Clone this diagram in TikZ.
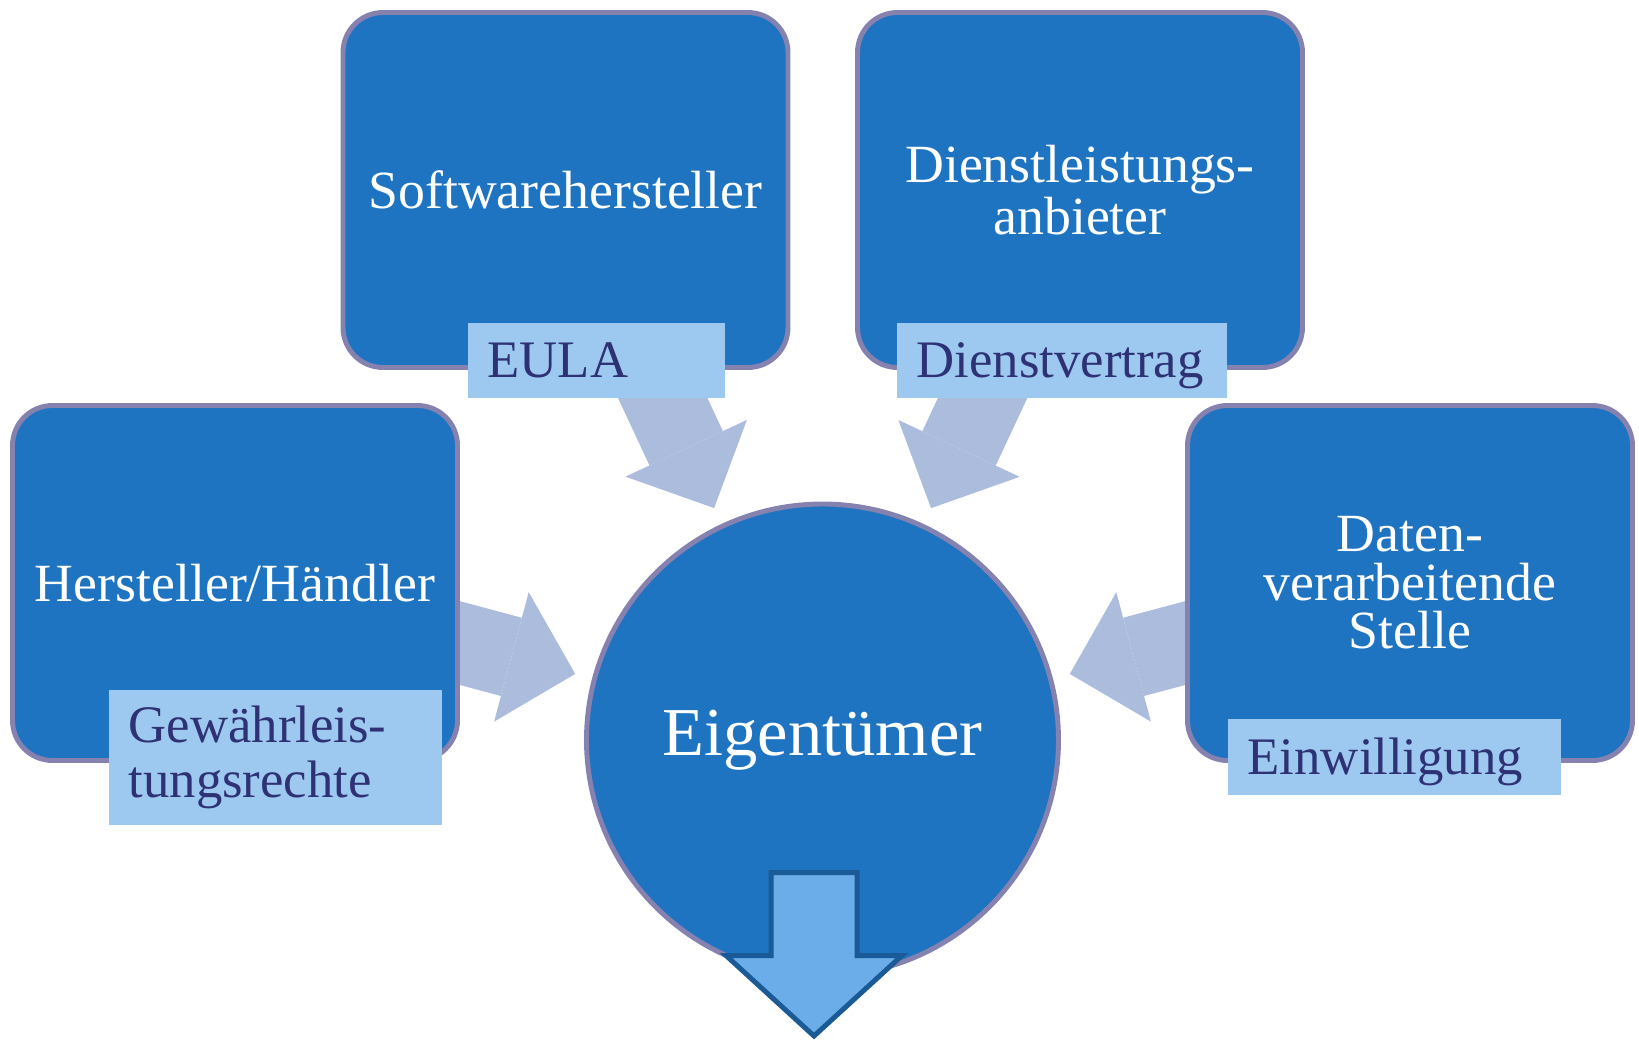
\documentclass[tikz,border=0pt]{standalone}
\usepackage{fontspec}
\setmainfont{Liberation Serif}
\usetikzlibrary{arrows.meta, backgrounds}

\definecolor{boxblue}{RGB}{31,116,193}
\definecolor{boxrim}{RGB}{134,130,176}
\definecolor{tagblue}{RGB}{157,200,239}
\definecolor{tagtext}{RGB}{46,50,116}
\definecolor{flowgray}{RGB}{171,188,221}
\definecolor{outfill}{RGB}{106,173,232}
\definecolor{outrim}{RGB}{26,90,150}

\begin{document}
\begin{tikzpicture}[
  party/.style={draw=boxrim, line width=1.4pt, fill=boxblue, rounded corners=0.4cm,
    minimum width=4.45cm, minimum height=3.55cm, align=center, text=white,
    font=\fontsize{15.3}{13.8}\selectfont},
  tag/.style={fill=tagblue, text=tagtext, anchor=north west, align=left,
    inner xsep=0.2cm, inner ysep=0pt, font=\fontsize{15}{15.6}\selectfont},
  oneline/.style={text depth=0pt},
  flow/.style={draw=flowgray, line width=0.81cm,
    -{Triangle[length=0.66cm, width=1.34cm, line width=0pt]}, shorten >=\TipGap}
]

  % 参数定义
  \def\TipGap{2.56cm}  % 箭头尖到圆心的距离
  \def\Mx{8.14}        % 下方箭头中线

  \useasboundingbox (0,0) rectangle (16.39,10.41);

  % 1. 四个参与方
  \node[party] (sw) at (5.655,8.51) {Softwarehersteller};
  \node[party] (dl) at (10.80,8.51) {Dienstleistungs-\\anbieter};
  \node[party] (hh) at (2.35,4.58)  {Hersteller/Händler};
  \node[party] (dv) at (14.10,4.58) {Daten-\\verarbeitende\\Stelle};

  % 2. 法律依据标签
  \node[tag, oneline, text width=2.17cm, minimum height=0.75cm] (eula)   at (4.67,7.19)  {EULA};
  \node[tag, oneline, text width=2.90cm, minimum height=0.75cm] (dienst) at (8.96,7.19)  {Dienstvertrag};
  \node[tag, text width=2.93cm, minimum height=1.35cm] (gew)             at (1.08,3.52)  {Gewährleis-\\tungsrechte};
  \node[tag, oneline, text width=2.93cm, minimum height=0.76cm] (einw)   at (12.27,3.23) {Einwilligung};

  % 3. 中心圆
  \node[circle, draw=boxrim, line width=1.4pt, fill=boxblue, minimum size=4.72cm,
    text=white, font=\fontsize{19.5}{22}\selectfont] (owner) at (8.225,3.01) {Eigentümer};

  % 4. 汇聚箭头 (底层)
  \begin{scope}[on background layer]
    \foreach \p in {sw, dl, hh, dv}
      \draw[flow] (\p.center) -- (owner.center);
  \end{scope}

  % 5. 下方输出箭头
  \draw[draw=outrim, fill=outfill, line width=1.42pt, line join=miter]
    (\Mx-0.43,1.685) -- (\Mx+0.43,1.685) -- (\Mx+0.43,0.855) -- (\Mx+0.88,0.855)
    -- (\Mx,0.05) -- (\Mx-0.88,0.855) -- (\Mx-0.43,0.855) -- cycle;

\end{tikzpicture}
\end{document}
